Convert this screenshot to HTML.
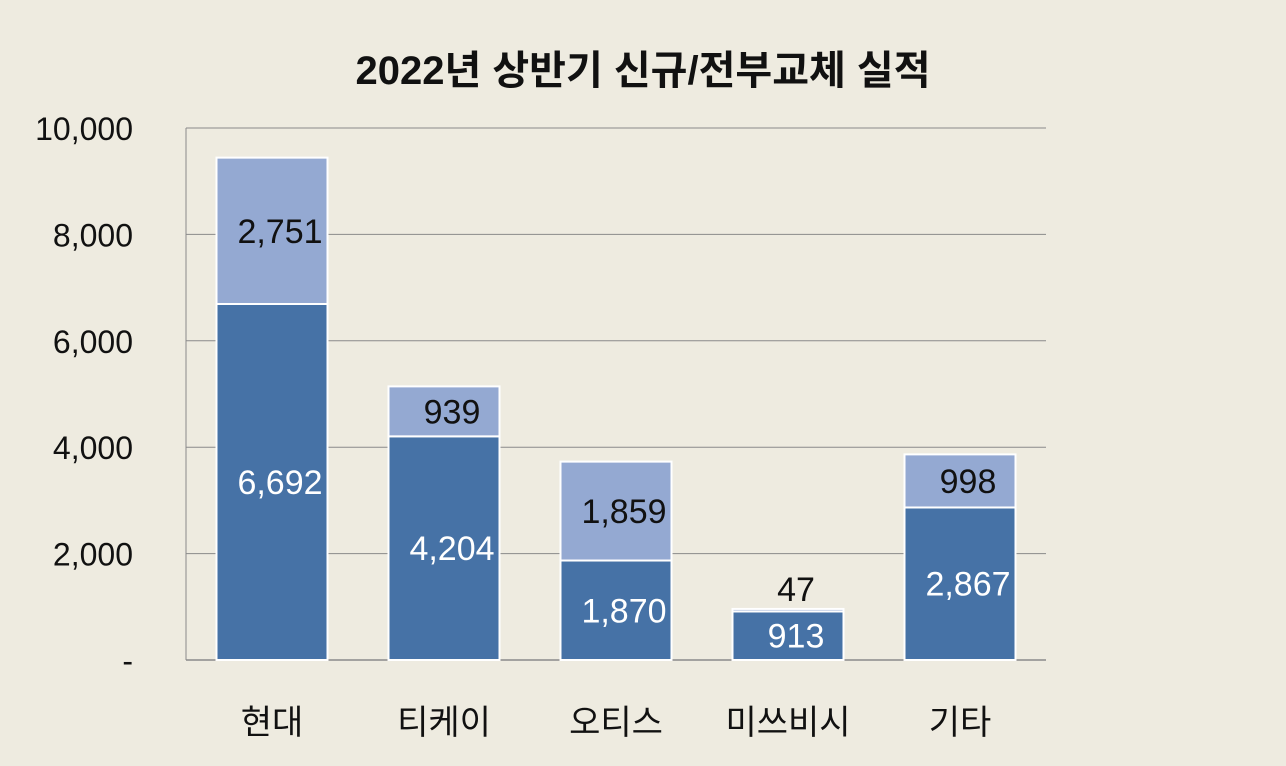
<!DOCTYPE html>
<html><head><meta charset="utf-8"><style>
html,body{margin:0;padding:0;background:#eeebe0;}
svg{display:block;font-family:"Liberation Sans","Noto Sans CJK KR",sans-serif;}
</style></head><body>
<svg width="1286" height="766" viewBox="0 0 1286 766">
<rect width="1286" height="766" fill="#eeebe0"/>
<text x="643" y="84" text-anchor="middle" font-size="40" font-weight="bold" fill="#111">2022년 상반기 신규/전부교체 실적</text>
<g id="grid"></g><g id="bars"></g><g id="labels"></g>
</svg>
<script>
const categories=["현대","티케이","오티스","미쓰비시","기타"];
const newValues=[6692,4204,1870,913,2867];
const replaceValues=[2751,939,1859,47,998];
const yTicks=[0,2000,4000,6000,8000,10000];
const yTickLabels=["-","2,000","4,000","6,000","8,000","10,000"];
const NS="http://www.w3.org/2000/svg";
const x0=186,x1=1046,yBase=660,yTop=128,yMax=10000;
const band=(x1-x0)/categories.length,bw=111;
const y=v=>yBase-(v/yMax)*(yBase-yTop);
const xc=i=>x0+band*i+band/2;
const fmt=v=>v.toLocaleString("en-US");
function mk(tag,attrs,parent){const e=document.createElementNS(NS,tag);for(const k in attrs)e.setAttribute(k,attrs[k]);parent.appendChild(e);return e;}
const grid=document.getElementById("grid"),bars=document.getElementById("bars"),labels=document.getElementById("labels");
yTicks.forEach((t,i)=>{
 const l=mk("line",{x1:x0,x2:x1,y1:y(t),y2:y(t),stroke:"#8a8a8a","stroke-width":1},grid);
 
 
 const tx=mk("text",{x:133,y:y(t)+12,"text-anchor":"end","font-size":32,fill:"#111"},grid);
 tx.textContent=yTickLabels[i];
 
 
});
const ax=mk("line",{x1:x0,x2:x0,y1:yTop,y2:yBase,stroke:"#8a8a8a","stroke-width":1},grid);


categories.forEach((c,i)=>{
 const n=newValues[i],r=replaceValues[i],cx=xc(i),bx=cx-bw/2;
 const b1=mk("rect",{x:bx,y:y(n),width:bw,height:yBase-y(n),fill:"#4672a6",stroke:"#fff","stroke-width":2},bars);
 
 
 const b2=mk("rect",{x:bx,y:y(n+r),width:bw,height:y(n)-y(n+r),fill:"#94a9d2",stroke:"#fff","stroke-width":2},bars);
 
 
 const t1=mk("text",{x:cx+8,y:(y(n)+yBase)/2+12,"text-anchor":"middle","font-size":34,fill:"#fff"},labels);
 t1.textContent=fmt(n);
 
 
 const segH=y(n)-y(n+r);
 const ly=segH<30?y(n+r)-8:(y(n)+y(n+r))/2+12;
 const t2=mk("text",{x:cx+8,y:ly,"text-anchor":"middle","font-size":34,fill:"#111"},labels);
 t2.textContent=fmt(r);
 
 
 const xl=mk("text",{x:cx,y:734,"text-anchor":"middle","font-size":34,fill:"#111"},labels);
 xl.textContent=c;
 
 
});
const bx=mk("line",{x1:x0,x2:x1,y1:yBase,y2:yBase,stroke:"#8a8a8a","stroke-width":1.5},grid);


</script>
</body></html>
